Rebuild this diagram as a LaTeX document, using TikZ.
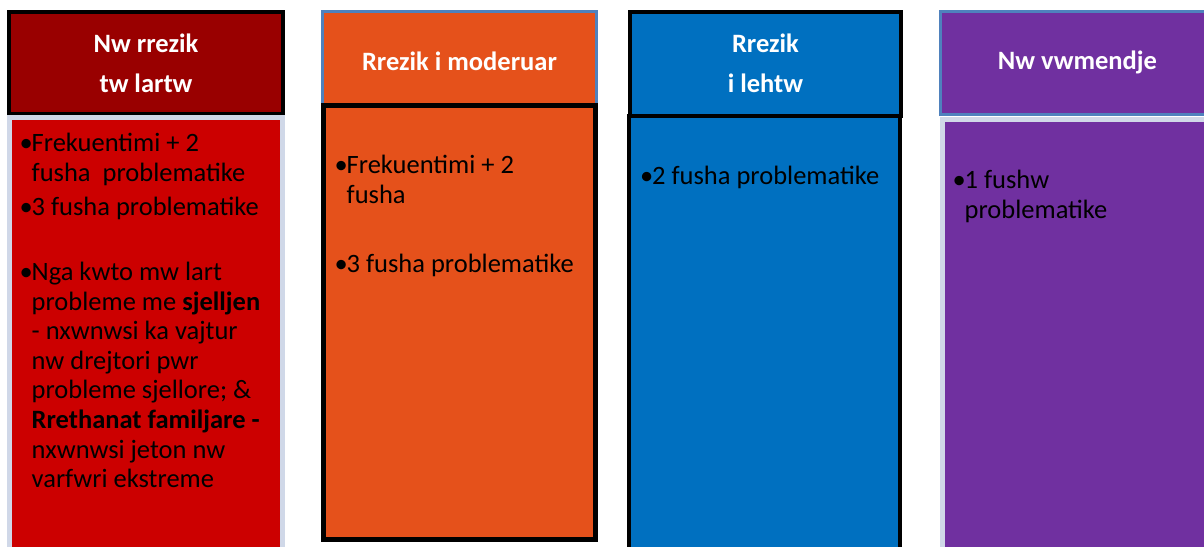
\documentclass[tikz,border=0pt]{standalone}
\usepackage{fontspec}
\setmainfont{Carlito}
\usepackage{tikz}
\usetikzlibrary{calc}

\definecolor{darkred}{RGB}{153,0,0}
\definecolor{brightred}{RGB}{204,0,0}
\definecolor{orng}{RGB}{229,81,27}
\definecolor{blu}{RGB}{0,112,192}
\definecolor{purp}{RGB}{112,48,160}
\definecolor{paleline}{RGB}{208,216,232}
\definecolor{blueline}{RGB}{79,129,189}

\newcommand{\blt}{\makebox[12pt][l]{\textbullet}}
\newcommand{\ind}{\hspace*{12pt}}

\tikzset{
	hdr/.style={inner sep=0pt, align=center, text=white,
		font=\fontsize{26.5}{40}\selectfont\bfseries},
	bodybox/.style={inner sep=0pt},
	itm/.style={inner sep=0pt, anchor=base west, align=left,
		font=\fontsize{26.5}{29.6}\selectfont}
}

\begin{document}
\begin{tikzpicture}[x=1pt,y=-1pt]
			\useasboundingbox (0,0) rectangle (1204,546);
			\clip (0,0) rectangle (1204,546);
			
			%headers
			\node[hdr, fill=darkred, draw=black, line width=4pt, minimum width=274pt, minimum height=102pt] (h1) at (146,63) {Nw rrezik\\tw lartw};
			\node[hdr, fill=orng, draw=blueline, line width=3pt, minimum width=274pt, minimum height=100.5pt] (h2) at (459.5,61.75) {Rrezik i moderuar};
			\node[hdr, fill=blu, draw=black, line width=4pt, minimum width=271pt, minimum height=103.5pt] (h3) at (765.5,63.75) {Rrezik\\i lehtw};
			\node[hdr, fill=purp, draw=blueline, line width=3pt, minimum width=274pt, minimum height=102.5pt] (h4) at (1077.5,62.75) {Nw vwmendje};
			
			%bodies
			\node[bodybox, fill=brightred, draw=paleline, line width=5pt, minimum width=273pt, minimum height=482.5pt] (b1) at (146,358.75) {};
			\node[bodybox, fill=orng, draw=black, line width=5pt, minimum width=272pt, minimum height=434pt] (b2) at (459.5,322.5) {};
			\node[bodybox, fill=blu, draw=black, line width=4pt, minimum width=271pt, minimum height=484pt] (b3) at (764.5,358) {};
			\node[bodybox, fill=purp, draw=paleline, line width=5pt, minimum width=271.5pt, minimum height=480.5pt] (b4) at (1078.25,359.75) {};
			
			%items (base = last line)
			\node[itm] (i11) at ($(b1.north west)+(12.5,66.1)$) {\blt Frekuentimi + 2\\\ind fusha\ \ problematike};
			\node[itm] (i12) at ($(b1.north west)+(12.5,100.5)$) {\blt 3 fusha problematike};
			\node[itm] (i13) at ($(b1.north west)+(12.5,372.7)$) {\blt Nga kwto mw lart\\\ind probleme me \textbf{sjelljen}\\\ind - nxwnwsi ka vajtur\\\ind nw drejtori pwr\\\ind probleme sjellore; \&\\\ind \textbf{Rrethanat familjare -}\\\ind nxwnwsi jeton nw\\\ind varfwri ekstreme};
			
			\node[itm] (i21) at ($(b2.north west)+(13.5,100.1)$) {\blt Frekuentimi + 2\\\ind fusha};
			\node[itm] (i22) at ($(b2.north west)+(13.5,169.5)$) {\blt 3 fusha problematike};
			
			\node[itm] (i31) at ($(b3.north west)+(13,70)$) {\blt 2 fusha problematike};
			
			\node[itm] (i41) at ($(b4.north west)+(12.5,101.1)$) {\blt 1 fushw\\\ind problematike};
		\end{tikzpicture}
\end{document}
